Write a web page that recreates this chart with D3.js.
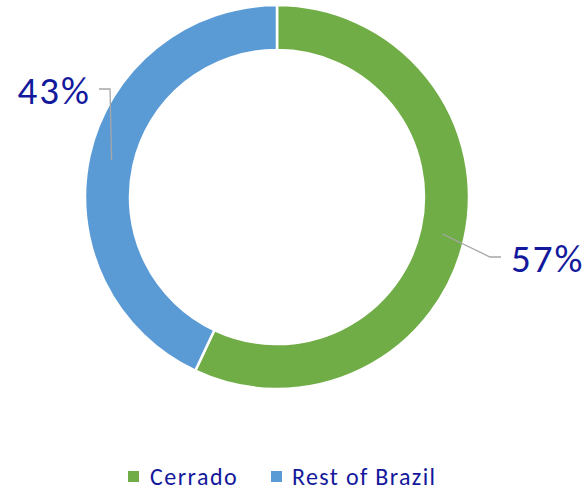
<!DOCTYPE html>
<html><head><meta charset="utf-8">
<script src="https://cdn.jsdelivr.net/npm/d3@7"></script>
<style>body{margin:0;background:#fff}svg{display:block}</style>
</head><body>
<svg id="c" width="587" height="492"></svg>
<script>
const categories = ["Cerrado", "Rest of Brazil"];
const values = [57, 43];
const labels = ["57%", "43%"];
const colors = ["#70ad47", "#5b9bd5"];

const svg = d3.select("#c");
const cx = 277, cy = 197, rOut = 192, rIn = 147;
const font = "Carlito, Calibri, Lato, 'Open Sans', sans-serif";
const textColor = "#13199c";

const pie = d3.pie().sort(null).value(d => d)(values);
const arc = d3.arc().innerRadius(rIn).outerRadius(rOut);
const g = svg.append("g").attr("transform", `translate(${cx},${cy})`);
g.selectAll("path").data(pie).join("path")
  .attr("d", arc)
  .attr("fill", (d, i) => colors[i])
  .attr("stroke", "#fff").attr("stroke-width", 2.5);

// leader lines and labels
const leaders = [
  { i: 0, knee: [490 - cx, 257 - cy], end: [501 - cx, 257 - cy], tx: 511, ty: 272, anchor: "start" },
  { i: 1, knee: [110 - cx, 89 - cy], end: [99 - cx, 89 - cy], tx: 91, ty: 104, anchor: "end" }
];
leaders.forEach(L => {
  const d = pie[L.i];
  const a = (d.startAngle + d.endAngle) / 2;
  const r = (rIn + rOut) / 2;
  const p = [Math.sin(a) * r, -Math.cos(a) * r];
  g.append("polyline")
    .attr("points", [p, L.knee, L.end].map(q => q.join(",")).join(" "))
    .attr("fill", "none").attr("stroke", "#a6a6a6").attr("stroke-width", 1.3);
  svg.append("text").attr("x", L.tx).attr("y", L.ty)
    .attr("text-anchor", L.anchor)
    .attr("font-family", font).attr("font-size", 39)
    .attr("letter-spacing", 2)
    .attr("fill", textColor).text(labels[L.i]);
});

// legend
const legend = [ { x: 128, tx: 150, ls: 1.5 }, { x: 271, tx: 292, ls: 1.35 } ];
categories.forEach((c, i) => {
  svg.append("rect").attr("x", legend[i].x).attr("y", 471).attr("width", 11).attr("height", 11)
    .attr("fill", colors[i]);
  svg.append("text").attr("x", legend[i].tx).attr("y", 485)
    .attr("font-family", font).attr("font-size", 24)
    .attr("letter-spacing", legend[i].ls)
    .attr("fill", textColor).text(c);
});
</script>
</body></html>
